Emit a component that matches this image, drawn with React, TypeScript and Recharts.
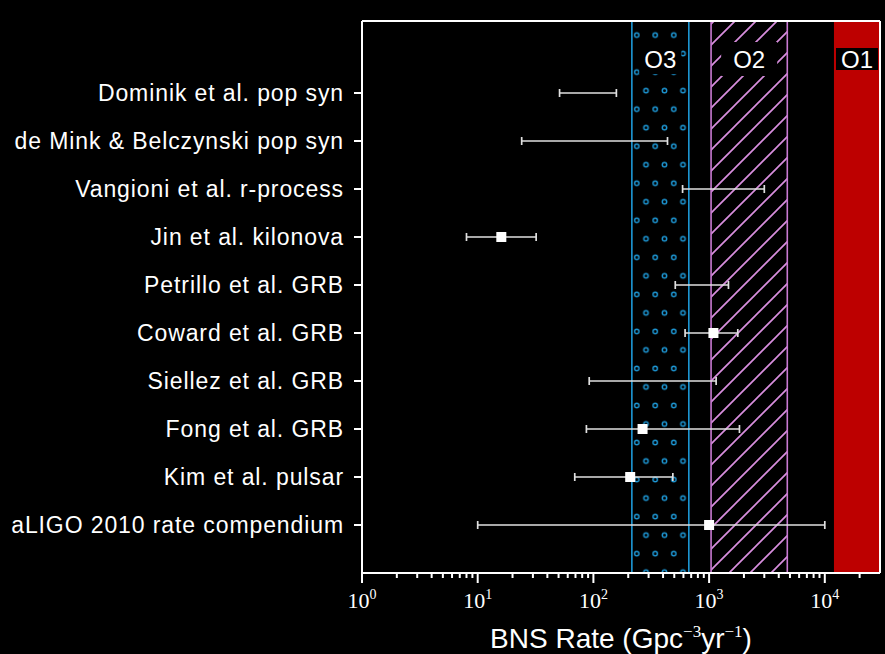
import React from 'react';
import {
  ScatterChart,
  Scatter,
  XAxis,
  YAxis,
  ErrorBar,
  ReferenceArea,
  ReferenceLine,
} from 'recharts';

// rows, top to bottom
const studies = [
  'Dominik et al. pop syn',
  'de Mink & Belczynski pop syn',
  'Vangioni et al. r-process',
  'Jin et al. kilonova',
  'Petrillo et al. GRB',
  'Coward et al. GRB',
  'Siellez et al. GRB',
  'Fong et al. GRB',
  'Kim et al. pulsar',
  'aLIGO 2010 rate compendium',
];
const rateLow = [51, 24, 590, 8, 510, 620, 92, 87, 69, 10];
const rateHigh = [158, 437, 3000, 32, 1470, 1770, 1150, 1830, 486, 10000];
const rateBest: (number | null)[] = [null, null, null, 16, null, 1090, null, 266, 208, 1000];

// observing run bands
const runNames = ['O3', 'O2', 'O1'];
const runLow = [215, 1040, 12000];
const runHigh = [668, 4740, 30000];

const majorTicks = [1, 10, 100, 1000, 10000];
const minorMult = [2, 3, 4, 5, 6, 7, 8, 9];
const allTicks = [
  ...majorTicks,
  ...majorTicks.flatMap((d) => minorMult.map((m) => d * m)).filter((v) => v < 30000),
].sort((a, b) => a - b);

const rowTicks = studies.map((_, i) => i);

const data = studies.map((name, i) => {
  const best = rateBest[i];
  const x = best ?? rateLow[i];
  return {
    name,
    y: studies.length - 1 - i,
    x,
    best,
    err: [x - rateLow[i], rateHigh[i] - x],
  };
});

const BLUE = '#1d98d6';
const PINK = '#c97ad2';
const RED = '#bd0000';
const SANS = '"Liberation Sans", Arial, Helvetica, sans-serif';
const SERIF = '"Liberation Serif", "Times New Roman", serif';

const BottomTick = (props: any) => {
  const { x, y, payload } = props;
  const v = payload.value;
  const major = majorTicks.includes(v);
  return (
    <g>
      <line x1={x} x2={x} y1={y} y2={y + (major ? 10 : 5)} stroke="#fff" strokeWidth={2} />
      {major && (
        <text x={x} y={y + 35} textAnchor="middle" fill="#fff" fontFamily={SERIF} fontSize={22}>
          10
          <tspan fontSize={14} dy={-9}>
            {Math.round(Math.log10(v))}
          </tspan>
        </text>
      )}
    </g>
  );
};

const TopTick = (props: any) => {
  const { x, y, payload } = props;
  const major = majorTicks.includes(payload.value);
  return <line x1={x} x2={x} y1={y} y2={y - (major ? 10 : 5)} stroke="#fff" strokeWidth={2} />;
};

const LeftTick = (props: any) => {
  const { x, y, payload } = props;
  return (
    <text
      x={x}
      y={y}
      dy="0.36em"
      textAnchor="end"
      fill="#fff"
      fontFamily={SANS}
      fontSize={23}
      letterSpacing={0.9}
    >
      {studies[studies.length - 1 - payload.value]}
    </text>
  );
};

const AxisTitle = (props: any) => {
  const { viewBox } = props;
  const cx = viewBox.x + viewBox.width / 2;
  return (
    <text x={cx} y={viewBox.y + 75} textAnchor="middle" fill="#fff" fontFamily={SANS} fontSize={28}>
      BNS Rate (Gpc
      <tspan fontFamily={SERIF} fontSize={17} dy={-11}>
        −3
      </tspan>
      <tspan dy={11}>yr</tspan>
      <tspan fontFamily={SERIF} fontSize={17} dy={-11}>
        −1
      </tspan>
      <tspan dy={11}>)</tspan>
    </text>
  );
};

const boxSize: Record<string, [number, number]> = {
  O3: [42, 30],
  O2: [56, 34],
  O1: [42, 22],
};

const RunLabel = (props: any) => {
  const { viewBox, value } = props;
  const cx = viewBox.x + viewBox.width / 2;
  const cy = viewBox.y + 38;
  const [w, h] = boxSize[value];
  return (
    <g>
      <rect x={cx - w / 2} y={cy - h / 2} width={w} height={h} fill="#000" />
      <text x={cx} y={cy + 8.5} textAnchor="middle" fill="#fff" fontFamily={SANS} fontSize={24}>
        {value}
      </text>
    </g>
  );
};

const Marker = (props: any) => {
  const { cx, cy, payload } = props;
  if (payload.best == null) return <g />;
  return <rect x={cx - 5} y={cy - 5} width={10} height={10} fill="#fff" />;
};

const runFill = ['url(#dots)', 'url(#hatch)', RED];
const runEdge = [BLUE, PINK, null];

export default function App() {
  return (
    <div style={{ position: 'absolute', left: 0, top: 0, width: 885, height: 654, background: '#000' }}>
      <ScatterChart width={885} height={654} margin={{ top: 0, right: 0, bottom: 0, left: 0 }}>
        <defs>
          <pattern id="dots" patternUnits="userSpaceOnUse" x={636.75} y={7.3} width={18.5} height={37.04}>
            <circle cx={9.25} cy={9.26} r={2.2} fill="none" stroke={BLUE} strokeWidth={1.4} />
            <circle cx={0} cy={27.78} r={2.2} fill="none" stroke={BLUE} strokeWidth={1.4} />
            <circle cx={18.5} cy={27.78} r={2.2} fill="none" stroke={BLUE} strokeWidth={1.4} />
          </pattern>
          <pattern id="hatch" patternUnits="userSpaceOnUse" width={21} height={21}>
            <path d="M0,21 L21,0 M-5,5 L5,-5 M16,26 L26,16" stroke="#d88ede" strokeWidth={1.7} />
          </pattern>
        </defs>
        <XAxis
          xAxisId="b"
          dataKey="x"
          type="number"
          scale="log"
          domain={[1, 30000]}
          ticks={allTicks}
          interval={0}
          height={81}
          tickSize={0}
          tickMargin={0}
          tickLine={false}
          axisLine={{ stroke: '#fff', strokeWidth: 2 }}
          tick={<BottomTick />}
          label={<AxisTitle />}
        />
        <XAxis
          xAxisId="t"
          orientation="top"
          type="number"
          scale="log"
          domain={[1, 30000]}
          ticks={allTicks}
          interval={0}
          height={21}
          tickSize={0}
          tickMargin={0}
          tickLine={false}
          axisLine={{ stroke: '#fff', strokeWidth: 2 }}
          tick={<TopTick />}
        />
        <YAxis
          yAxisId="l"
          dataKey="y"
          type="number"
          domain={[-1, 10.5]}
          ticks={rowTicks}
          interval={0}
          width={362}
          tickSize={8}
          tickMargin={10}
          tickLine={{ stroke: '#fff', strokeWidth: 2 }}
          axisLine={{ stroke: '#fff', strokeWidth: 2 }}
          tick={<LeftTick />}
        />
        <YAxis
          yAxisId="r"
          orientation="right"
          type="number"
          domain={[-1, 10.5]}
          ticks={rowTicks}
          interval={0}
          width={5}
          tickSize={5}
          tick={false}
          tickLine={{ stroke: '#fff', strokeWidth: 2 }}
          axisLine={{ stroke: '#fff', strokeWidth: 2 }}
        />
        {runNames.map((name, i) => (
          <ReferenceArea
            key={name}
            xAxisId="b"
            yAxisId="l"
            x1={runLow[i]}
            x2={runHigh[i]}
            fill={runFill[i]}
            fillOpacity={1}
            stroke="none"
            label={<RunLabel value={name} />}
          />
        ))}
        {runNames.map((name, i) =>
          runEdge[i]
            ? [runLow[i], runHigh[i]].map((v, j) => (
                <ReferenceLine
                  key={name + j}
                  xAxisId="b"
                  yAxisId="l"
                  x={v}
                  stroke={runEdge[i] as string}
                  strokeWidth={1.6}
                />
              ))
            : null
        )}
        <Scatter
          xAxisId="b"
          yAxisId="l"
          data={data}
          dataKey="x"
          isAnimationActive={false}
          shape={<Marker />}
        >
          <ErrorBar
            dataKey="err"
            direction="x"
            width={4}
            stroke="#e0e0e0"
            strokeWidth={1.7}
            isAnimationActive={false}
          />
        </Scatter>
      </ScatterChart>
    </div>
  );
}
